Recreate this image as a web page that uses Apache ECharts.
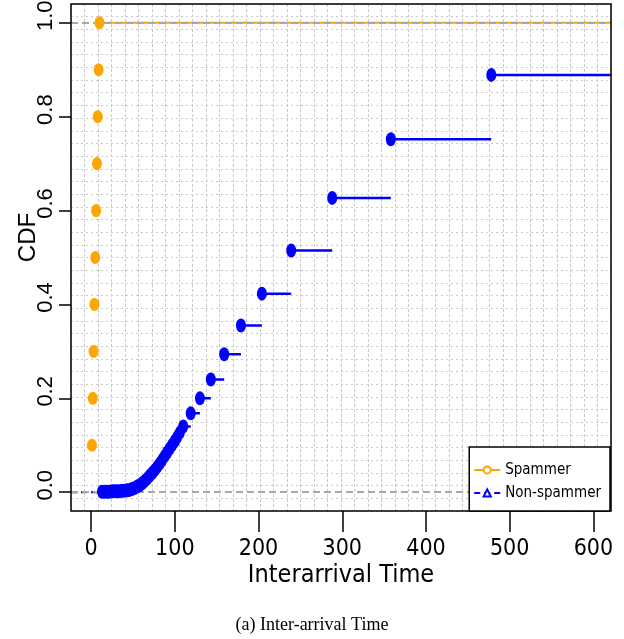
<!DOCTYPE html>
<html>
<head>
<meta charset="utf-8">
<script src="https://cdn.jsdelivr.net/npm/echarts@6/dist/echarts.min.js"></script>
<style>html,body{margin:0;padding:0;background:#fff}#c{width:624px;height:639px}</style>
</head>
<body>
<div id="c"></div>
<script>
// ---- data ----
const spamX = [1, 2, 3, 4, 5, 6, 7, 8, 9, 10];
const spamF = [0.1, 0.2, 0.3, 0.4, 0.5, 0.6, 0.7, 0.8, 0.9, 1.0];
const nonX = [13, 16, 19, 22, 25, 28, 31, 34, 37, 40, 43, 46, 49, 52, 55, 58, 61, 64, 67, 70, 73, 76, 79, 82, 85, 88, 91, 94, 97, 100, 103, 106, 110, 119, 130, 143, 159, 179, 204, 239, 288, 358, 478];
const nonF = [0.001, 0.001, 0.001, 0.001, 0.002, 0.002, 0.002, 0.002, 0.003, 0.003, 0.004, 0.005, 0.007, 0.009, 0.012, 0.015, 0.019, 0.024, 0.029, 0.035, 0.041, 0.047, 0.054, 0.061, 0.069, 0.077, 0.085, 0.093, 0.101, 0.109, 0.118, 0.127, 0.140, 0.168, 0.200, 0.240, 0.294, 0.355, 0.423, 0.515, 0.627, 0.752, 0.889];
const xTicks = [0, 100, 200, 300, 400, 500, 600];
const yTicks = [0, 0.2, 0.4, 0.6, 0.8, 1.0];
const refLines = [0, 1];
const xLim = [-24, 621];
const yLim = [-0.04, 1.04];
const seriesNames = ['Spammer', 'Non-spammer'];
const xTitle = 'Interarrival Time';
const yTitle = 'CDF';
const caption = '(a) Inter-arrival Time';

// ECDF horizontal segments (no verticals), built from the data
function steps(xs, fs, xmax) {
  const out = [];
  for (let i = 0; i < xs.length; i++) {
    const xe = i + 1 < xs.length ? xs[i + 1] : xmax;
    out.push([xs[i], fs[i]], [xe, fs[i]], '-');
  }
  return out;
}
const pts = (xs, fs) => xs.map((x, i) => [x, fs[i]]);

const NARROW = "'Liberation Sans Narrow', 'DejaVu Sans Condensed', 'Liberation Sans', sans-serif";
const SANS = "'Liberation Sans', Arial, sans-serif";
const ORANGE = '#FFA500', BLUE = '#0000FF';

const chart = echarts.init(document.getElementById('c'), null, {renderer: 'canvas'});
chart.setOption({
  animation: false,
  backgroundColor: '#fff',
  title: {
    text: caption, left: 'center', top: 611,
    textStyle: {fontFamily: "'Liberation Serif', 'Times New Roman', serif", fontSize: 18, fontWeight: 'normal', color: '#000'}
  },
  grid: {left: 71, right: 13, top: 4, bottom: 128, containLabel: false, outerBoundsMode: 'none',
         show: true, borderColor: '#000', borderWidth: 1.5, backgroundColor: 'transparent', z: 10},
  legend: {
    data: [{name: seriesNames[0]}, {name: seriesNames[1]}],
    orient: 'vertical', right: 14, bottom: 128,
    backgroundColor: '#fff', borderColor: '#000', borderWidth: 1.5,
    padding: [15, 9, 10, 4], itemWidth: 26, itemHeight: 9, itemGap: 7,
    textStyle: {fontFamily: NARROW, fontSize: 15, lineHeight: 16, color: '#000'},
    z: 20
  },
  xAxis: [
    {type: 'value', min: xLim[0], max: xLim[1], name: xTitle, nameLocation: 'middle', nameGap: 52, nameMoveOverlap: false,
     nameTextStyle: {fontFamily: NARROW, fontSize: 25, color: '#000'},
     axisLine: {show: false, onZero: false}, splitLine: {show: false},
     axisTick: {show: true, length: 21, customValues: xTicks, lineStyle: {color: '#000', width: 1.5}},
     axisLabel: {customValues: xTicks, margin: 27, fontFamily: NARROW, fontSize: 23, color: '#000'}},
    {type: 'value', min: 0, max: 40, interval: 1, show: true, position: 'bottom',
     axisLine: {show: false, onZero: false}, axisTick: {show: false}, axisLabel: {show: false},
     splitLine: {show: true, lineStyle: {color: '#cacaca', width: 1, type: [3, 2]}}}
  ],
  yAxis: [
    {type: 'value', min: yLim[0], max: yLim[1], name: yTitle, nameLocation: 'middle', nameGap: 31, nameRotate: 90,
     nameMoveOverlap: false,
     nameTextStyle: {fontFamily: SANS, fontSize: 24, color: '#000', padding: [0, 0, 0, 40]},
     axisLine: {show: false, onZero: false}, splitLine: {show: false},
     axisTick: {show: true, inside: false, length: 12, customValues: yTicks, lineStyle: {color: '#000', width: 1.5}},
     axisLabel: {customValues: yTicks, rotate: 90, margin: 14, fontFamily: SANS, fontSize: 22, color: '#000',
       padding: [0, 0, 0, 14], formatter: v => v.toFixed(1)}},
    {type: 'value', min: 0, max: 40, interval: 1, show: true, position: 'left',
     axisLine: {show: false, onZero: false}, axisTick: {show: false}, axisLabel: {show: false},
     splitLine: {show: true, lineStyle: {color: '#cacaca', width: 1, type: [2, 3]}}}
  ],
  series: [
    {name: seriesNames[0], type: 'line', xAxisIndex: 0, yAxisIndex: 0, z: 3,
     data: steps(spamX, spamF, xLim[1]), symbol: 'emptyCircle', showSymbol: false,
     lineStyle: {color: ORANGE, width: 2}, itemStyle: {color: ORANGE},
     markLine: {silent: true, symbol: 'none', label: {show: false},
       lineStyle: {color: '#a8a8a8', width: 2, type: [7, 4]},
       data: refLines.map(v => ({yAxis: v}))}},
    {name: seriesNames[1], type: 'line', xAxisIndex: 0, yAxisIndex: 0, z: 4,
     data: [[xLim[0], 0], [nonX[0], 0]], symbol: 'emptyTriangle', showSymbol: false,
     lineStyle: {color: BLUE, width: 2, type: [6, 4]}, itemStyle: {color: BLUE}},
    {name: seriesNames[1] + ' steps', type: 'line', xAxisIndex: 0, yAxisIndex: 0, z: 4,
     data: steps(nonX, nonF, xLim[1]), symbol: 'none',
     lineStyle: {color: BLUE, width: 2.5}},
    {name: seriesNames[0] + ' points', type: 'scatter', xAxisIndex: 0, yAxisIndex: 0, z: 5,
     data: pts(spamX, spamF), symbol: 'circle', symbolSize: [10, 13], itemStyle: {color: ORANGE, opacity: 1}},
    {name: seriesNames[1] + ' points', type: 'scatter', xAxisIndex: 0, yAxisIndex: 0, z: 5,
     data: pts(nonX, nonF), symbol: 'circle', symbolSize: [10, 14], itemStyle: {color: BLUE, opacity: 1}}
  ]
});
</script>
</body>
</html>
